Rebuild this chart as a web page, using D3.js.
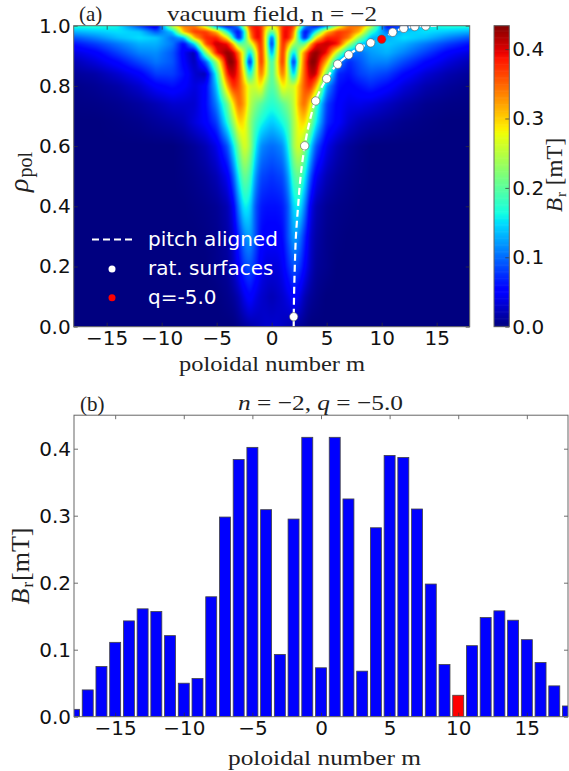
<!DOCTYPE html>
<html>
<head>
<meta charset="utf-8">
<script src="https://cdn.jsdelivr.net/npm/d3@7"></script>
<style>
html, body { margin: 0; padding: 0; background: #fff; }
svg { display: block; }
.tick text { font-family: "DejaVu Sans"; font-size: 20px; fill: #111; }
.serif { font-family: "Liberation Serif"; fill: #222; }
</style>
</head>
<body>
<div id="chart"></div>
<script>
// grid of the vacuum field map, values in mT
var fieldM = [-18,-16,-14,-12,-10.5,-9,-8,-7,-6,-5,-4,-3.5,-3,-2.5,-2,-1.5,-1,-0.5,0,
              0.5,1,1.5,2,2.5,3,3.5,4,5,6,7,8,9,10.5,12,14,16,18];
var fieldRho = [0,0.1,0.2,0.3,0.4,0.5,0.6,0.68,0.74,0.8,0.84,0.88,0.91,0.94,0.96,0.98,1];
var fieldRows = [
 [0,0,0,0,0,0,0,0,0,0,0,0,.005,.01,.015,.02,.025,.03,.03, .03,.025,.02,.015,.01,.005,0,0,0,0,0,0,0,0,0,0,0,0],
 [0,0,0,0,0,0,0,0,0,0,.005,.01,.02,.04,.055,.04,.03,.025,.02, .025,.03,.04,.055,.04,.02,.01,.005,0,0,0,0,0,0,0,0,0,0],
 [0,0,0,0,0,0,0,0,0,.005,.01,.025,.05,.08,.09,.07,.045,.035,.035, .035,.045,.07,.09,.08,.05,.025,.01,.005,0,0,0,0,0,0,0,0,0],
 [0,0,0,0,0,0,0,0,.002,.005,.015,.03,.07,.11,.125,.09,.055,.05,.05, .05,.055,.09,.125,.11,.07,.03,.015,.005,.002,0,0,0,0,0,0,0,0],
 [0,0,0,0,0,0,0,.002,.004,.008,.02,.045,.11,.16,.15,.09,.065,.06,.06, .06,.065,.09,.15,.16,.11,.045,.02,.008,.004,.002,0,0,0,0,0,0,0],
 [0,0,0,0,0,0,.002,.005,.01,.02,.045,.09,.16,.21,.19,.12,.085,.08,.075, .08,.085,.12,.19,.21,.16,.09,.045,.02,.01,.005,.002,0,0,0,0,0,0],
 [0,0,0,0,0,0,.004,.01,.02,.04,.09,.15,.22,.27,.24,.16,.115,.105,.10, .105,.115,.16,.24,.27,.22,.15,.09,.04,.02,.01,.004,0,0,0,0,0,0],
 [0,0,.002,.005,.01,.015,.02,.035,.05,.08,.17,.23,.30,.29,.23,.19,.165,.15,.14, .15,.165,.19,.24,.29,.30,.23,.16,.07,.05,.03,.02,.015,.01,.005,.002,0,0],
 [.002,.003,.006,.012,.02,.03,.03,.03,.055,.11,.21,.29,.35,.32,.25,.22,.20,.18,.17, .18,.20,.22,.25,.32,.35,.29,.19,.08,.05,.04,.04,.035,.025,.015,.006,.003,.002],
 [.004,.008,.015,.03,.05,.06,.05,.035,.05,.14,.32,.38,.36,.31,.26,.26,.29,.22,.19, .22,.29,.26,.26,.31,.36,.38,.32,.12,.06,.05,.06,.07,.055,.035,.018,.01,.005],
 [.01,.015,.03,.05,.08,.08,.06,.03,.02,.17,.39,.41,.37,.28,.15,.25,.35,.27,.18, .27,.35,.25,.12,.28,.36,.41,.41,.21,.07,.06,.08,.09,.08,.055,.032,.018,.01],
 [.02,.035,.055,.085,.105,.09,.05,.02,.09,.24,.43,.43,.37,.24,.04,.23,.39,.28,.17, .28,.39,.23,.04,.25,.36,.43,.43,.31,.12,.07,.09,.11,.11,.085,.055,.035,.02],
 [.035,.05,.08,.11,.115,.09,.045,.015,.22,.39,.43,.41,.34,.25,.13,.25,.39,.27,.10, .27,.39,.25,.13,.25,.34,.41,.43,.39,.24,.11,.10,.12,.13,.11,.08,.05,.035],
 [.06,.08,.105,.13,.13,.105,.05,.15,.36,.41,.39,.31,.20,.20,.24,.32,.39,.26,.04, .26,.39,.32,.24,.20,.20,.31,.39,.41,.39,.25,.14,.13,.14,.13,.105,.08,.06],
 [.09,.11,.135,.15,.14,.10,.13,.31,.38,.38,.28,.15,.05,.16,.31,.39,.39,.26,.07, .26,.39,.39,.31,.16,.05,.15,.28,.38,.38,.34,.22,.13,.13,.15,.135,.11,.09],
 [.13,.14,.15,.14,.09,.14,.31,.37,.37,.31,.16,.09,.05,.15,.34,.39,.39,.27,.19, .27,.39,.39,.34,.15,.05,.09,.16,.31,.37,.36,.31,.18,.10,.14,.15,.14,.13],
 [.17,.17,.16,.08,.03,.26,.34,.34,.25,.10,.05,.08,.12,.25,.37,.39,.38,.30,.28, .30,.38,.39,.37,.25,.12,.08,.05,.10,.25,.34,.34,.26,.05,.08,.16,.17,.17]
];

// pitch aligned curve and rational surfaces
var pitchM = [2,2.03,2.1,2.2,2.4,2.63,3,3.5,3.97,5,5.97,7,8,8.97,10,11,12,13,14,15];
var pitchRho = [0,0.1,0.2,0.3,0.4,0.5,0.6,0.69,0.75,0.824,0.872,0.903,0.927,0.943,0.955,0.978,0.991,0.997,0.999,1];
var ratM = [2,3,4,5,6,7,8,9,10,11,12,13,14];
var ratRho = [0.033,0.601,0.75,0.824,0.872,0.903,0.927,0.943,0.955,0.978,0.991,0.997,0.999];
var selectedM = 10;

// spectrum in the lower panel
var barM = [-18,-17,-16,-15,-14,-13,-12,-11,-10,-9,-8,-7,-6,-5,-4,-3,-2,-1,0,1,2,3,4,5,6,7,8,9,10,11,12,13,14,15,16,17,18];
var barValues = [.011,.040,.075,.111,.143,.161,.157,.121,.050,.057,.179,.298,.384,.402,.309,.093,.295,.417,.073,.417,.325,.068,.282,.390,.387,.310,.198,.078,.032,.106,.148,.158,.144,.115,.081,.046,.016];

var mTicks = [-15,-10,-5,0,5,10,15];
var rhoTicks = [0,0.2,0.4,0.6,0.8,1];
var brTicks = [0,0.1,0.2,0.3,0.4];
var fieldMax = 0.4337;

var fmtMinus = function(d){ return String(d).replace("-", "\u2212"); };

var svg = d3.select("#chart").append("svg").attr("width", 569).attr("height", 771);

// matplotlib jet
var jetR = d3.scaleLinear().domain([0,.35,.66,.89,1]).range([0,0,1,1,.5]);
var jetG = d3.scaleLinear().domain([0,.125,.375,.64,.91,1]).range([0,0,1,1,0,0]);
var jetB = d3.scaleLinear().domain([0,.11,.34,.65,1]).range([.5,1,1,0,0]);
function jet(v){
    var t = Math.max(0, Math.min(1, v / fieldMax));
    return [jetR(t)*255, jetG(t)*255, jetB(t)*255];
}

var xTop = d3.scaleLinear().domain([-18,18]).range([73.7,469.7]);
var yTop = d3.scaleLinear().domain([0,1]).range([326.7,25.7]);
var xBot = d3.scaleLinear().domain([-18,18]).range([74,568]);
var yBot = d3.scaleLinear().domain([0,0.45]).range([716.7,415.2]);
var yBar = d3.scaleLinear().domain([0,fieldMax]).range([326.7,25.7]);

// bilinear lookup in the field grid
function fieldAt(m, rho){
    m = Math.max(-18, Math.min(18, m));
    rho = Math.max(0, Math.min(1, rho));
    var i = Math.max(1, d3.bisectLeft(fieldM, m));
    var j = Math.max(1, d3.bisectLeft(fieldRho, rho));
    var tx = (m - fieldM[i-1]) / (fieldM[i] - fieldM[i-1]);
    var ty = (rho - fieldRho[j-1]) / (fieldRho[j] - fieldRho[j-1]);
    var lo = fieldRows[j-1][i-1] * (1-tx) + fieldRows[j-1][i] * tx;
    var hi = fieldRows[j][i-1] * (1-tx) + fieldRows[j][i] * tx;
    return lo * (1-ty) + hi * ty;
}

// paint the map into a canvas, with a little smoothing like imshow does
function fieldImage(){
    var w = Math.round(xTop.range()[1] - xTop.range()[0]);
    var h = Math.round(yTop.range()[0] - yTop.range()[1]);
    var canvas = document.createElement("canvas");
    canvas.width = w;
    canvas.height = h;
    var ctx = canvas.getContext("2d");
    var img = ctx.createImageData(w, h);
    var offs = [-2,-1,0,1,2];
    for (var py = 0; py < h; py++){
        for (var px = 0; px < w; px++){
            var sum = 0;
            offs.forEach(function(dx){
                offs.forEach(function(dy){
                    var m = xTop.invert(xTop.range()[0] + px + 0.5 + dx);
                    var rho = yTop.invert(yTop.range()[1] + py + 0.5 + dy*0.5);
                    sum += fieldAt(m, rho);
                });
            });
            var c = jet(sum / 25);
            var k = (py*w + px)*4;
            img.data[k] = c[0]; img.data[k+1] = c[1]; img.data[k+2] = c[2]; img.data[k+3] = 255;
        }
    }
    ctx.putImageData(img, 0, 0);
    return canvas.toDataURL();
}

svg.append("image")
    .attr("x", xTop.range()[0])
    .attr("y", yTop.range()[1])
    .attr("width", xTop.range()[1] - xTop.range()[0])
    .attr("height", yTop.range()[0] - yTop.range()[1])
    .attr("preserveAspectRatio", "none")
    .attr("href", fieldImage());

svg.append("clipPath").attr("id", "clipTop").append("rect")
    .attr("x", xTop.range()[0]).attr("y", yTop.range()[1])
    .attr("width", xTop.range()[1] - xTop.range()[0])
    .attr("height", yTop.range()[0] - yTop.range()[1]);
svg.append("clipPath").attr("id", "clipBot").append("rect")
    .attr("x", xBot.range()[0]).attr("y", yBot.range()[1])
    .attr("width", xBot.range()[1] - xBot.range()[0])
    .attr("height", yBot.range()[0] - yBot.range()[1]);

// pitch aligned line + surfaces
var overlay = svg.append("g").attr("clip-path", "url(#clipTop)");
var pitchLine = d3.line()
    .x(function(d, i){ return xTop(d); })
    .y(function(d, i){ return yTop(pitchRho[i]); })
    .curve(d3.curveMonotoneY);
overlay.append("path")
    .attr("d", pitchLine(pitchM))
    .attr("fill", "none")
    .attr("stroke", "#fff")
    .attr("stroke-width", 2.2)
    .attr("stroke-dasharray", "7,4");
overlay.selectAll("circle").data(ratM).enter().append("circle")
    .attr("cx", function(d){ return xTop(d); })
    .attr("cy", function(d, i){ return yTop(ratRho[i]); })
    .attr("r", 4.2)
    .attr("fill", function(d){ return d == selectedM ? "#f00" : "#fff"; })
    .attr("stroke", "#555")
    .attr("stroke-width", 0.6);

// legend inside the map
var legend = svg.append("g").style("font-family", "DejaVu Sans").style("font-size", "20px").attr("fill", "#fff");
legend.append("line").attr("x1", 92).attr("x2", 132).attr("y1", 239.5).attr("y2", 239.5)
    .attr("stroke", "#fff").attr("stroke-width", 2.2).attr("stroke-dasharray", "7,4");
legend.append("circle").attr("cx", 112).attr("cy", 269).attr("r", 3.5).attr("fill", "#fff");
legend.append("circle").attr("cx", 112).attr("cy", 297.7).attr("r", 3.5).attr("fill", "#f00");
legend.append("text").attr("x", 148).attr("y", 245.5).text("pitch aligned");
legend.append("text").attr("x", 148).attr("y", 275).text("rat. surfaces");
legend.append("text").attr("x", 148).attr("y", 304).text("q=-5.0");

// bars
var barG = svg.append("g").attr("clip-path", "url(#clipBot)");
barG.selectAll("rect").data(barM).enter().append("rect")
    .attr("x", function(d){ return xBot(d - 0.4); })
    .attr("width", xBot(0.8) - xBot(0))
    .attr("y", function(d, i){ return yBot(barValues[i]); })
    .attr("height", function(d, i){ return yBot(0) - yBot(barValues[i]); })
    .attr("fill", function(d){ return d == selectedM ? "#f00" : "#00f"; })
    .attr("stroke", "#444")
    .attr("stroke-width", 0.8);

// colorbar
var barSteps = d3.range(0, fieldMax, fieldMax / 256);
svg.append("g").selectAll("rect").data(barSteps).enter().append("rect")
    .attr("x", 494)
    .attr("width", 15.3)
    .attr("y", function(d){ return yBar(d + fieldMax/256) - 0.3; })
    .attr("height", yBar(0) - yBar(fieldMax/256) + 0.6)
    .attr("fill", function(d){ var c = jet(d); return d3.rgb(c[0], c[1], c[2]); });

// axes, ticks point inward like the old matplotlib default
function styleAxis(g){
    g.select(".domain").remove();
    g.selectAll(".tick line").attr("stroke", "#333").attr("stroke-width", 0.7);
}
function frame(x0, x1, y0, y1){
    svg.append("rect").attr("x", x0).attr("y", y1).attr("width", x1-x0).attr("height", y0-y1)
        .attr("fill", "none").attr("stroke", "#666").attr("stroke-width", 1);
}
function panelAxes(x, y, xTicks, yTicks){
    var x0 = x.range()[0], x1 = x.range()[1], y0 = y.range()[0], y1 = y.range()[1];
    svg.append("g").attr("transform", "translate(0," + y0 + ")")
        .call(d3.axisBottom(x).tickValues(xTicks).tickSize(-4).tickPadding(4).tickFormat(fmtMinus))
        .call(styleAxis);
    svg.append("g").attr("transform", "translate(0," + y1 + ")")
        .call(d3.axisTop(x).tickValues(xTicks).tickSize(-4).tickFormat(""))
        .call(styleAxis);
    svg.append("g").attr("transform", "translate(" + x0 + ",0)")
        .call(d3.axisLeft(y).tickValues(yTicks).tickSize(-4).tickPadding(3).tickFormat(d3.format(".1f")))
        .call(styleAxis);
    svg.append("g").attr("transform", "translate(" + x1 + ",0)")
        .call(d3.axisRight(y).tickValues(yTicks).tickSize(-4).tickFormat(""))
        .call(styleAxis);
    frame(x0, x1, y0, y1);
}
panelAxes(xTop, yTop, mTicks, rhoTicks);
panelAxes(xBot, yBot, mTicks, brTicks);

svg.append("g").attr("transform", "translate(509.3,0)")
    .call(d3.axisRight(yBar).tickValues(brTicks).tickSize(-4).tickPadding(3).tickFormat(d3.format(".1f")))
    .call(styleAxis);
frame(494, 509.3, 326.7, 25.7);

// titles and labels, Computer Modern is not available so stretch a serif to the same widths
function serif(x, y, size, anchor, width){
    var t = svg.append("text").attr("class", "serif")
        .attr("x", x).attr("y", y)
        .style("font-size", size + "px")
        .attr("text-anchor", anchor);
    if (width) t.attr("textLength", width).attr("lengthAdjust", "spacingAndGlyphs");
    return t;
}
serif(79, 20.5, 21, "start").text("(a)");
serif(80, 410.5, 21, "start").text("(b)");
serif(167, 20.5, 22, "start", 210).text("vacuum field, n = \u22122");
serif(179, 371, 22, "start", 186).text("poloidal number m");
serif(228, 765, 22, "start", 193).text("poloidal number m");

var titleB = serif(238, 410, 22, "start", 165);
titleB.append("tspan").style("font-style", "italic").text("n");
titleB.append("tspan").text(" = \u22122, ");
titleB.append("tspan").style("font-style", "italic").text("q");
titleB.append("tspan").text(" = \u22125.0");

function rotated(x, y, size){
    return svg.append("text").attr("class", "serif")
        .attr("transform", "translate(" + x + "," + y + ") rotate(-90)")
        .attr("text-anchor", "middle")
        .style("font-size", size + "px");
}
function subscript(t, main, sub, rest, subSize){
    t.append("tspan").style("font-style", "italic").text(main);
    t.append("tspan").attr("dy", 4).attr("dx", 1).style("font-size", subSize + "px").text(sub);
    if (rest) t.append("tspan").attr("dy", -4).attr("dx", 1).text(rest);
}
subscript(rotated(28, 172, 28), "\u03c1", "pol", null, 20);
subscript(rotated(29, 566, 26), "B", "r", "[mT]", 17);
subscript(rotated(562, 175, 23), "B", "r", " [mT]", 15);
</script>
</body>
</html>
